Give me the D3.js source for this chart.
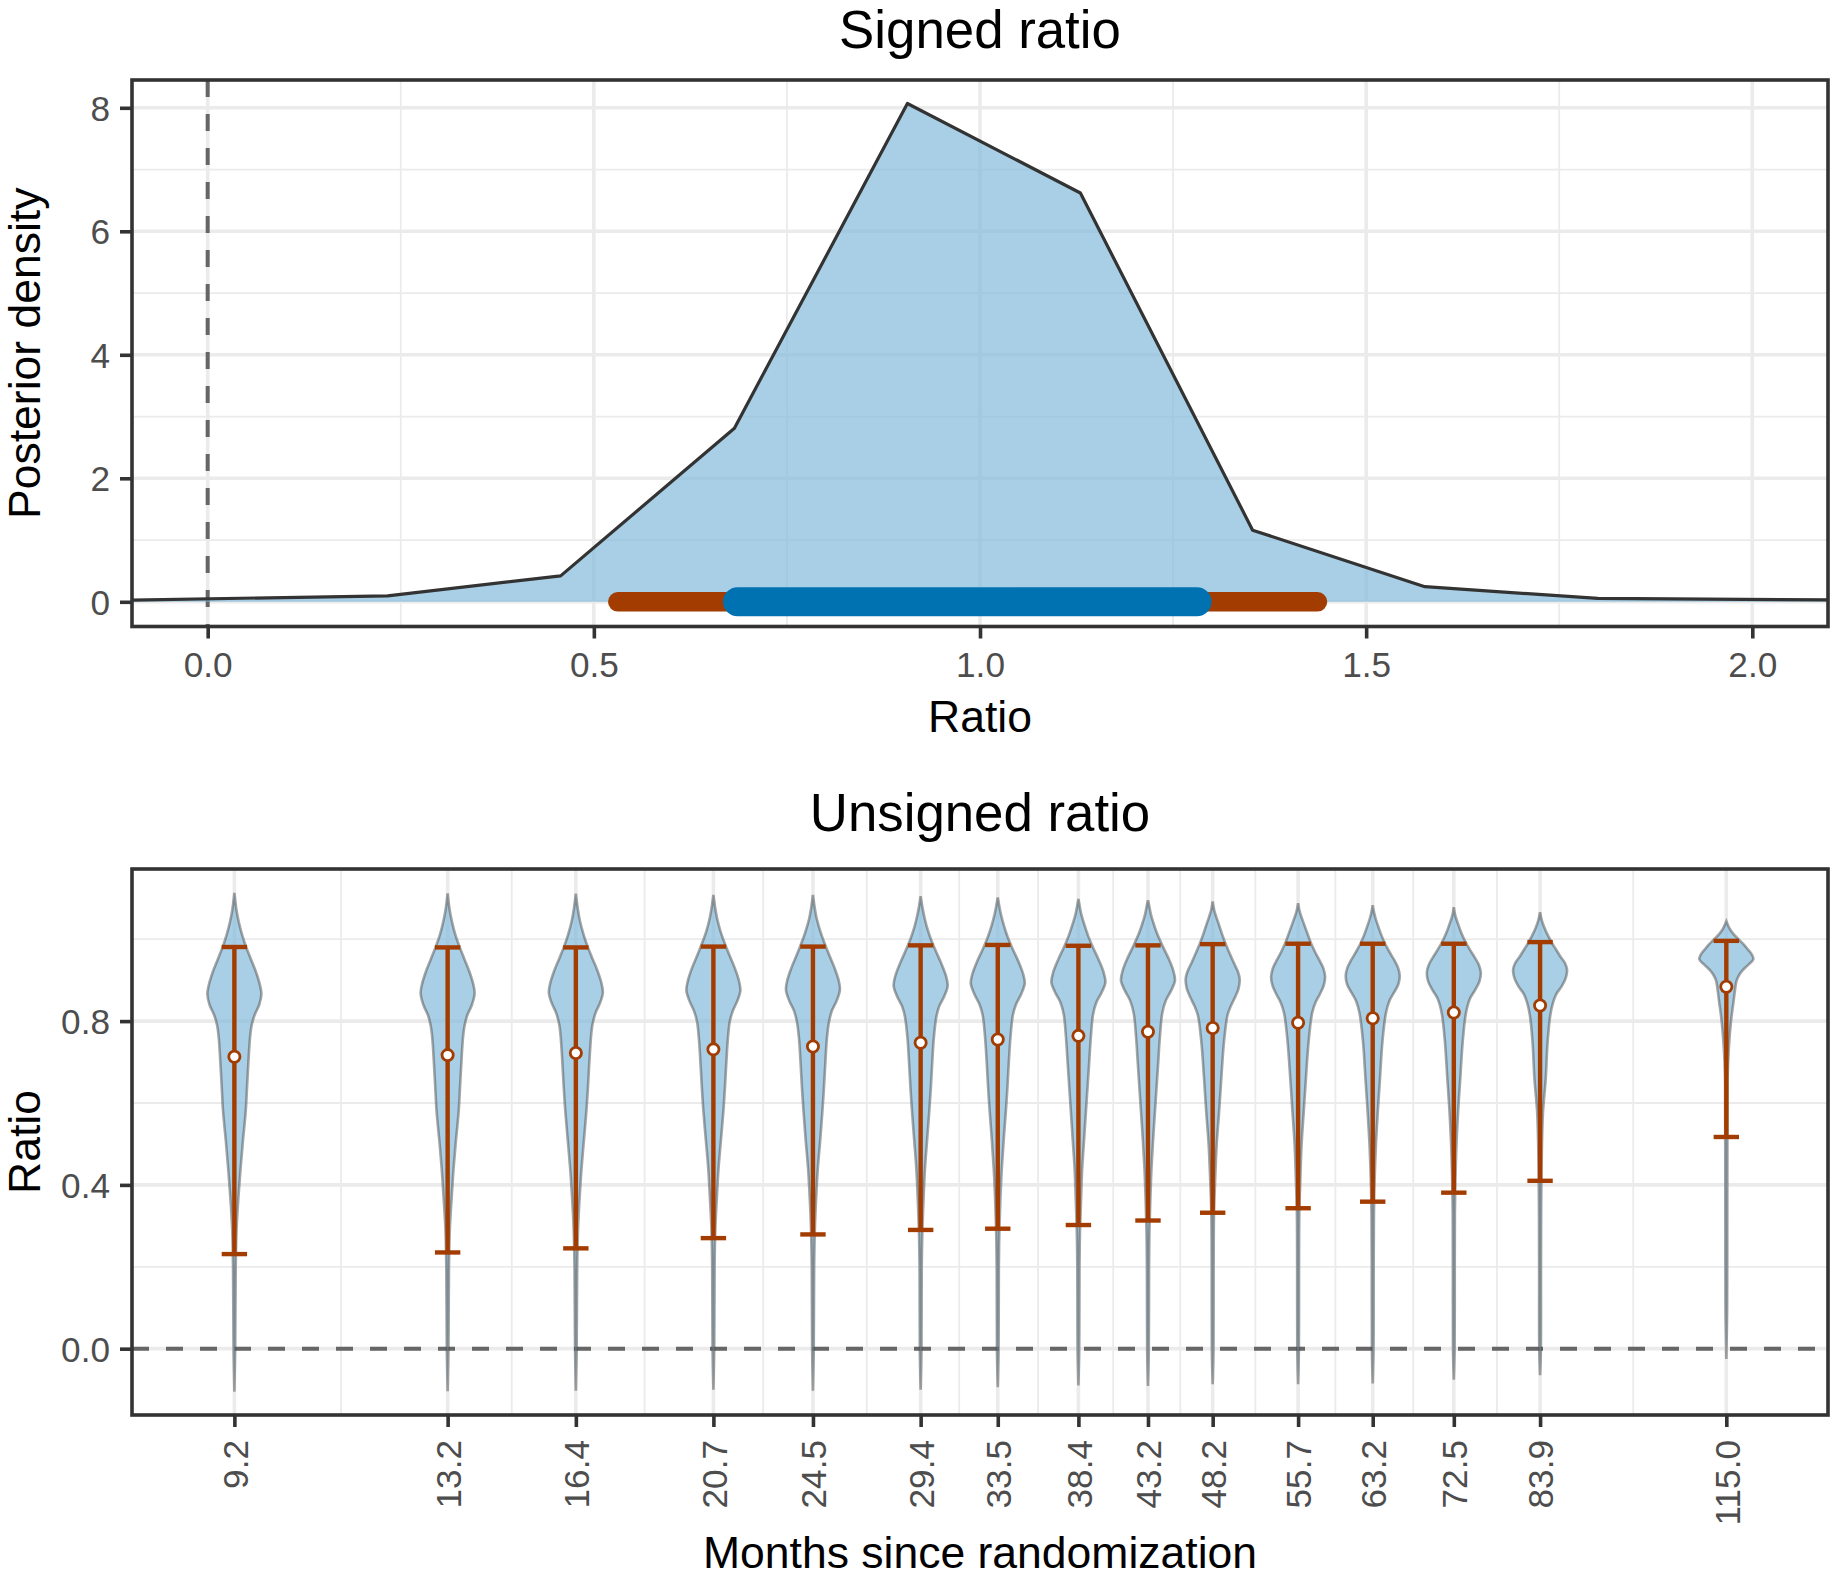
<!DOCTYPE html>
<html><head><meta charset="utf-8">
<script src="https://cdn.jsdelivr.net/npm/d3@7"></script>
<style>
body{margin:0;background:#fff}
text{font-family:"Liberation Sans",Arial,Helvetica,sans-serif}
</style>
</head><body>
<svg id="c" width="1830" height="1578" xmlns="http://www.w3.org/2000/svg"></svg>
<script>
// ---------- Top panel data: posterior density of the signed ratio ----------
const densityX = [-0.098, 0.233, 0.457, 0.682, 0.906, 1.130, 1.353, 1.576, 1.800, 2.098];
const densityY = [0.028, 0.097, 0.42, 2.81, 8.07, 6.62, 1.16, 0.245, 0.055, 0.03];
const outerInterval = [0.531, 1.437];
const innerInterval = [0.686, 1.281];
const topXTicks = [0, 0.5, 1.0, 1.5, 2.0];
const topXMinor = [0.25, 0.75, 1.25, 1.75];
const topYTicks = [0, 2, 4, 6, 8];
const topYMinor = [1, 3, 5, 7];

// ---------- Bottom panel data: unsigned ratio by months ----------
const months = [9.2, 13.2, 16.4, 20.7, 24.5, 29.4, 33.5, 38.4, 43.2, 48.2, 55.7, 63.2, 72.5, 83.9, 115.0];
const monthLabels = ["9.2","13.2","16.4","20.7","24.5","29.4","33.5","38.4","43.2","48.2","55.7","63.2","72.5","83.9","115.0"];
const pointEst = [0.713, 0.717, 0.722, 0.731, 0.738, 0.747, 0.755, 0.764, 0.774, 0.783, 0.796, 0.807, 0.821, 0.838, 0.884];
const ciLow  = [0.231, 0.235, 0.245, 0.270, 0.279, 0.290, 0.293, 0.302, 0.313, 0.332, 0.343, 0.359, 0.381, 0.410, 0.517];
const ciHigh = [0.981, 0.980, 0.980, 0.982, 0.982, 0.985, 0.986, 0.984, 0.985, 0.988, 0.989, 0.989, 0.989, 0.993, 0.996];
const botYTicks = [0, 0.4, 0.8];
const botYMinor = [0.2, 0.6, 1.0];

// violin outlines: [ratio, relative half-width]
const v09_2 = [[-0.105,0],[0,0.03],[0.2,0.05],[0.29,0.08],[0.37,0.15],[0.44,0.23],[0.51,0.32],[0.58,0.42],[0.64,0.47],[0.70,0.52],[0.76,0.58],[0.79,0.64],[0.815,0.75],[0.84,0.92],[0.866,1.0],[0.89,0.94],[0.92,0.80],[0.95,0.62],[0.98,0.44],[1.01,0.29],[1.04,0.17],[1.07,0.08],[1.113,0]];
const v13_2 = [[-0.104,0],[0,0.03],[0.2,0.05],[0.29,0.08],[0.37,0.15],[0.44,0.22],[0.51,0.31],[0.58,0.41],[0.64,0.46],[0.70,0.51],[0.76,0.57],[0.79,0.63],[0.815,0.73],[0.84,0.90],[0.868,1.0],[0.89,0.95],[0.92,0.81],[0.95,0.63],[0.98,0.45],[1.01,0.29],[1.04,0.17],[1.07,0.08],[1.112,0]];
const v16_4 = [[-0.103,0],[0,0.03],[0.2,0.05],[0.29,0.08],[0.37,0.14],[0.44,0.21],[0.51,0.30],[0.58,0.39],[0.64,0.45],[0.70,0.50],[0.76,0.56],[0.79,0.61],[0.82,0.73],[0.845,0.90],[0.870,1.0],[0.895,0.94],[0.925,0.79],[0.955,0.60],[0.985,0.42],[1.015,0.27],[1.045,0.15],[1.075,0.07],[1.111,0]];
const v20_7 = [[-0.100,0],[0,0.03],[0.2,0.045],[0.29,0.07],[0.37,0.13],[0.44,0.19],[0.51,0.28],[0.58,0.37],[0.64,0.43],[0.70,0.48],[0.76,0.54],[0.80,0.61],[0.825,0.72],[0.85,0.89],[0.875,1.0],[0.90,0.94],[0.93,0.79],[0.96,0.60],[0.99,0.42],[1.02,0.26],[1.05,0.14],[1.075,0.07],[1.108,0]];
const v24_5 = [[-0.103,0],[0,0.03],[0.2,0.045],[0.29,0.07],[0.37,0.12],[0.44,0.18],[0.51,0.27],[0.58,0.35],[0.64,0.41],[0.70,0.46],[0.76,0.52],[0.80,0.60],[0.825,0.70],[0.85,0.88],[0.877,1.0],[0.90,0.95],[0.93,0.80],[0.96,0.61],[0.99,0.43],[1.02,0.27],[1.05,0.14],[1.075,0.07],[1.108,0]];
const v29_4 = [[-0.100,0],[0,0.03],[0.2,0.04],[0.29,0.065],[0.37,0.11],[0.44,0.16],[0.51,0.24],[0.58,0.32],[0.64,0.38],[0.70,0.43],[0.76,0.49],[0.81,0.58],[0.835,0.68],[0.86,0.87],[0.886,1.0],[0.91,0.94],[0.94,0.77],[0.97,0.57],[1.00,0.38],[1.03,0.23],[1.06,0.12],[1.08,0.06],[1.105,0]];
const v33_5 = [[-0.094,0],[0,0.03],[0.2,0.04],[0.29,0.06],[0.37,0.10],[0.44,0.15],[0.51,0.22],[0.58,0.30],[0.64,0.36],[0.70,0.41],[0.76,0.47],[0.815,0.56],[0.84,0.67],[0.865,0.86],[0.892,1.0],[0.915,0.94],[0.945,0.77],[0.975,0.56],[1.005,0.37],[1.035,0.22],[1.06,0.12],[1.08,0.06],[1.102,0]];
const v38_4 = [[-0.090,0],[0,0.03],[0.2,0.04],[0.29,0.06],[0.37,0.10],[0.44,0.14],[0.51,0.21],[0.58,0.28],[0.64,0.34],[0.70,0.40],[0.76,0.46],[0.815,0.54],[0.845,0.66],[0.87,0.86],[0.894,1.0],[0.92,0.93],[0.95,0.75],[0.98,0.54],[1.01,0.35],[1.04,0.20],[1.06,0.11],[1.08,0.05],[1.098,0]];
const v43_2 = [[-0.091,0],[0,0.03],[0.2,0.04],[0.29,0.055],[0.37,0.09],[0.44,0.13],[0.51,0.19],[0.58,0.26],[0.64,0.32],[0.70,0.38],[0.76,0.44],[0.82,0.53],[0.85,0.66],[0.875,0.86],[0.899,1.0],[0.925,0.93],[0.955,0.75],[0.985,0.53],[1.015,0.33],[1.04,0.20],[1.06,0.11],[1.08,0.05],[1.095,0]];
const v48_2 = [[-0.087,0],[0,0.03],[0.2,0.035],[0.33,0.05],[0.41,0.09],[0.50,0.15],[0.58,0.24],[0.66,0.32],[0.75,0.42],[0.815,0.55],[0.835,0.66],[0.857,0.82],[0.88,0.96],[0.903,1.0],[0.92,0.94],[0.94,0.80],[0.965,0.63],[0.987,0.49],[1.01,0.36],[1.034,0.24],[1.055,0.13],[1.07,0.06],[1.092,0]];
const v55_7 = [[-0.087,0],[0,0.03],[0.2,0.035],[0.33,0.045],[0.41,0.08],[0.50,0.13],[0.58,0.21],[0.66,0.29],[0.75,0.39],[0.82,0.52],[0.845,0.64],[0.865,0.80],[0.887,0.95],[0.909,1.0],[0.93,0.93],[0.95,0.78],[0.97,0.62],[0.99,0.48],[1.015,0.34],[1.035,0.23],[1.055,0.12],[1.07,0.05],[1.088,0]];
const v63_2 = [[-0.085,0],[0,0.03],[0.2,0.035],[0.33,0.045],[0.41,0.07],[0.50,0.12],[0.58,0.19],[0.66,0.27],[0.75,0.36],[0.82,0.49],[0.85,0.62],[0.87,0.79],[0.89,0.95],[0.911,1.0],[0.93,0.94],[0.95,0.79],[0.97,0.61],[0.99,0.45],[1.01,0.32],[1.03,0.21],[1.05,0.11],[1.065,0.05],[1.083,0]];
const v72_5 = [[-0.076,0],[0,0.03],[0.2,0.035],[0.33,0.04],[0.41,0.06],[0.50,0.10],[0.58,0.16],[0.66,0.24],[0.75,0.33],[0.82,0.45],[0.855,0.60],[0.875,0.78],[0.897,0.95],[0.918,1.0],[0.937,0.93],[0.955,0.78],[0.975,0.59],[0.995,0.42],[1.015,0.28],[1.035,0.17],[1.05,0.09],[1.062,0.04],[1.078,0]];
const v83_9 = [[-0.065,0],[0,0.03],[0.2,0.035],[0.33,0.04],[0.41,0.05],[0.50,0.07],[0.58,0.11],[0.66,0.21],[0.75,0.28],[0.815,0.38],[0.845,0.48],[0.866,0.60],[0.885,0.80],[0.905,0.95],[0.926,1.0],[0.942,0.92],[0.958,0.75],[0.975,0.59],[0.992,0.43],[1.008,0.30],[1.025,0.18],[1.045,0.07],[1.066,0]];
const v115_0 = [[-0.025,0],[0.1,0.03],[0.3,0.035],[0.5,0.04],[0.60,0.045],[0.664,0.05],[0.731,0.09],[0.798,0.17],[0.849,0.27],[0.88,0.33],[0.899,0.38],[0.912,0.47],[0.924,0.6],[0.938,0.82],[0.951,1.0],[0.962,0.95],[0.975,0.80],[0.987,0.65],[1.00,0.45],[1.013,0.26],[1.025,0.13],[1.044,0]];
const violinShapes = [v09_2, v13_2, v16_4, v20_7, v24_5, v29_4, v33_5, v38_4, v43_2, v48_2, v55_7, v63_2, v72_5, v83_9, v115_0];

// ---------- styles ----------
const FILL = "#7fb8d8", FILL_OP = 0.68;
const ORANGE = "#a33c00", BLUE = "#0072b2";
const GRID = "#ebebeb", BORDER = "#333333", TICKTXT = "#4d4d4d";
const TICK_FS = 35.2, TITLE_FS = 44.5, MAIN_FS = 52.8;

const svg = d3.select("#c");
const P1 = {l:132, r:1828, t:80, b:626.5};
const P2 = {l:132, r:1828, t:869, b:1415};

function drawFrame(g, P) {
  g.append("rect").attr("x",P.l).attr("y",P.t).attr("width",P.r-P.l).attr("height",P.b-P.t)
   .attr("fill","none").attr("stroke",BORDER).attr("stroke-width",3.6);
}

// ================= TOP PANEL =================
const x1 = d3.scaleLinear().domain([-0.098, 2.098]).range([P1.l, P1.r]);
const y1 = d3.scaleLinear().domain([-0.40, 8.45]).range([P1.b, P1.t]);
const g1 = svg.append("g");
const clip1 = svg.append("clipPath").attr("id","clip1");
clip1.append("rect").attr("x",P1.l).attr("y",P1.t).attr("width",P1.r-P1.l).attr("height",P1.b-P1.t);

const grid1 = g1.append("g");
topXMinor.forEach(v => grid1.append("line").attr("x1",x1(v)).attr("x2",x1(v)).attr("y1",P1.t).attr("y2",P1.b).attr("stroke",GRID).attr("stroke-width",1.8));
topYMinor.forEach(v => grid1.append("line").attr("y1",y1(v)).attr("y2",y1(v)).attr("x1",P1.l).attr("x2",P1.r).attr("stroke",GRID).attr("stroke-width",1.8));
topXTicks.forEach(v => grid1.append("line").attr("x1",x1(v)).attr("x2",x1(v)).attr("y1",P1.t).attr("y2",P1.b).attr("stroke",GRID).attr("stroke-width",3.6));
topYTicks.forEach(v => grid1.append("line").attr("y1",y1(v)).attr("y2",y1(v)).attr("x1",P1.l).attr("x2",P1.r).attr("stroke",GRID).attr("stroke-width",3.6));

const plot1 = g1.append("g").attr("clip-path","url(#clip1)");
plot1.append("line").attr("x1",x1(0)).attr("x2",x1(0)).attr("y1",P1.t).attr("y2",P1.b)
  .attr("stroke","#666666").attr("stroke-width",4).attr("stroke-dasharray","17,17");

const dens = densityX.map((x,i)=>({x, y: densityY[i]}));
plot1.append("path").datum(dens)
  .attr("d", d3.area().x(d=>x1(d.x)).y0(y1(0)).y1(d=>y1(d.y)))
  .attr("fill",FILL).attr("fill-opacity",FILL_OP);
plot1.append("path").datum(dens)
  .attr("d", d3.line().x(d=>x1(d.x)).y(d=>y1(d.y)))
  .attr("fill","none").attr("stroke","#333333").attr("stroke-width",3.2).attr("stroke-linejoin","round");

plot1.append("line").attr("x1",x1(outerInterval[0])).attr("x2",x1(outerInterval[1])).attr("y1",y1(0)).attr("y2",y1(0))
  .attr("stroke",ORANGE).attr("stroke-width",19.5).attr("stroke-linecap","round");
plot1.append("line").attr("x1",x1(innerInterval[0])).attr("x2",x1(innerInterval[1])).attr("y1",y1(0)).attr("y2",y1(0))
  .attr("stroke",BLUE).attr("stroke-width",29).attr("stroke-linecap","round");

drawFrame(g1, P1);

// axes
const ax1 = g1.append("g").attr("transform",`translate(0,${P1.b})`)
  .call(d3.axisBottom(x1).tickValues(topXTicks).tickFormat(d3.format(".1f")).tickSize(12).tickPadding(12));
const ay1 = g1.append("g").attr("transform",`translate(${P1.l},0)`)
  .call(d3.axisLeft(y1).tickValues(topYTicks).tickFormat(d3.format("d")).tickSize(12).tickPadding(10));

function styleAxis(a) {
  a.select(".domain").remove();
  a.selectAll(".tick line").attr("stroke",BORDER).attr("stroke-width",3.6);
  a.selectAll(".tick text").attr("fill",TICKTXT).attr("font-size",TICK_FS)
    .attr("font-family","Liberation Sans, Arial, sans-serif");
}
styleAxis(ax1); styleAxis(ay1);
ax1.selectAll(".tick text").attr("dy",null).attr("y",50);
ay1.selectAll(".tick text").attr("dy","0.36em");

svg.append("text").attr("x",(P1.l+P1.r)/2).attr("y",48).attr("text-anchor","middle")
  .attr("font-size",MAIN_FS).attr("fill","#000").text("Signed ratio");
svg.append("text").attr("x",(P1.l+P1.r)/2).attr("y",732).attr("text-anchor","middle")
  .attr("font-size",TITLE_FS).attr("fill","#000").text("Ratio");
svg.append("text").attr("transform",`translate(40,${(P1.t+P1.b)/2}) rotate(-90)`).attr("text-anchor","middle")
  .attr("font-size",TITLE_FS).attr("fill","#000").text("Posterior density");

// ================= BOTTOM PANEL =================
const x2 = d3.scaleLog().domain([7.736, 136.6]).range([P2.l, P2.r]);
const y2 = d3.scaleLinear().domain([-0.162, 1.1715]).range([P2.b, P2.t]);
const g2 = svg.append("g");
const clip2 = svg.append("clipPath").attr("id","clip2");
clip2.append("rect").attr("x",P2.l).attr("y",P2.t).attr("width",P2.r-P2.l).attr("height",P2.b-P2.t);

const grid2 = g2.append("g");
const xMinor2 = d3.pairs(months).map(([a,b]) => Math.sqrt(a*b));
xMinor2.forEach(v => grid2.append("line").attr("x1",x2(v)).attr("x2",x2(v)).attr("y1",P2.t).attr("y2",P2.b).attr("stroke",GRID).attr("stroke-width",1.8));
botYMinor.forEach(v => grid2.append("line").attr("y1",y2(v)).attr("y2",y2(v)).attr("x1",P2.l).attr("x2",P2.r).attr("stroke",GRID).attr("stroke-width",1.8));
months.forEach(v => grid2.append("line").attr("x1",x2(v)).attr("x2",x2(v)).attr("y1",P2.t).attr("y2",P2.b).attr("stroke",GRID).attr("stroke-width",3.6));
botYTicks.forEach(v => grid2.append("line").attr("y1",y2(v)).attr("y2",y2(v)).attr("x1",P2.l).attr("x2",P2.r).attr("stroke",GRID).attr("stroke-width",3.6));

const plot2 = g2.append("g").attr("clip-path","url(#clip2)");
plot2.append("line").attr("x1",P2.l).attr("x2",P2.r).attr("y1",y2(0)).attr("y2",y2(0))
  .attr("stroke","#666666").attr("stroke-width",4).attr("stroke-dasharray","17,17");

const HALFW = 27;
months.forEach((m,i) => {
  const cx = x2(m);
  const shape = violinShapes[i];
  plot2.append("path").datum(shape)
    .attr("d", d3.area().curve(d3.curveCatmullRom.alpha(0.5))
      .y(d=>y2(d[0])).x0(d=>cx - d[1]*HALFW).x1(d=>cx + d[1]*HALFW))
    .attr("fill",FILL).attr("fill-opacity",FILL_OP)
    .attr("stroke","#4d4d4d").attr("stroke-opacity",0.5).attr("stroke-width",2.6);
});
months.forEach((m,i) => {
  const cx = x2(m);
  const eb = plot2.append("g").attr("stroke",ORANGE).attr("stroke-width",4.4);
  eb.append("line").attr("x1",cx).attr("x2",cx).attr("y1",y2(ciLow[i])).attr("y2",y2(ciHigh[i]));
  eb.append("line").attr("x1",cx-12.7).attr("x2",cx+12.7).attr("y1",y2(ciLow[i])).attr("y2",y2(ciLow[i]));
  eb.append("line").attr("x1",cx-12.7).attr("x2",cx+12.7).attr("y1",y2(ciHigh[i])).attr("y2",y2(ciHigh[i]));
  plot2.append("circle").attr("cx",cx).attr("cy",y2(pointEst[i])).attr("r",5.6)
    .attr("fill","#fff").attr("stroke",ORANGE).attr("stroke-width",2.8);
});

drawFrame(g2, P2);

const ax2 = g2.append("g").attr("transform",`translate(0,${P2.b})`)
  .call(d3.axisBottom(x2).tickValues(months).tickFormat((d,i)=>monthLabels[i]).tickSize(12));
const ay2 = g2.append("g").attr("transform",`translate(${P2.l},0)`)
  .call(d3.axisLeft(y2).tickValues(botYTicks).tickFormat(d3.format(".1f")).tickSize(12).tickPadding(10));
styleAxis(ax2); styleAxis(ay2);
ay2.selectAll(".tick text").attr("dy","0.36em");
ax2.selectAll(".tick text").attr("y",null).attr("dy",null)
  .attr("transform","translate(0,25) rotate(-90)")
  .attr("text-anchor","end").attr("dy","0.36em");

svg.append("text").attr("x",(P2.l+P2.r)/2).attr("y",831).attr("text-anchor","middle")
  .attr("font-size",MAIN_FS).attr("fill","#000").text("Unsigned ratio");
svg.append("text").attr("x",(P2.l+P2.r)/2).attr("y",1568).attr("text-anchor","middle")
  .attr("font-size",TITLE_FS).attr("fill","#000").text("Months since randomization");
svg.append("text").attr("transform",`translate(40,${(P2.t+P2.b)/2}) rotate(-90)`).attr("text-anchor","middle")
  .attr("font-size",TITLE_FS).attr("fill","#000").text("Ratio");
</script>
</body></html>
